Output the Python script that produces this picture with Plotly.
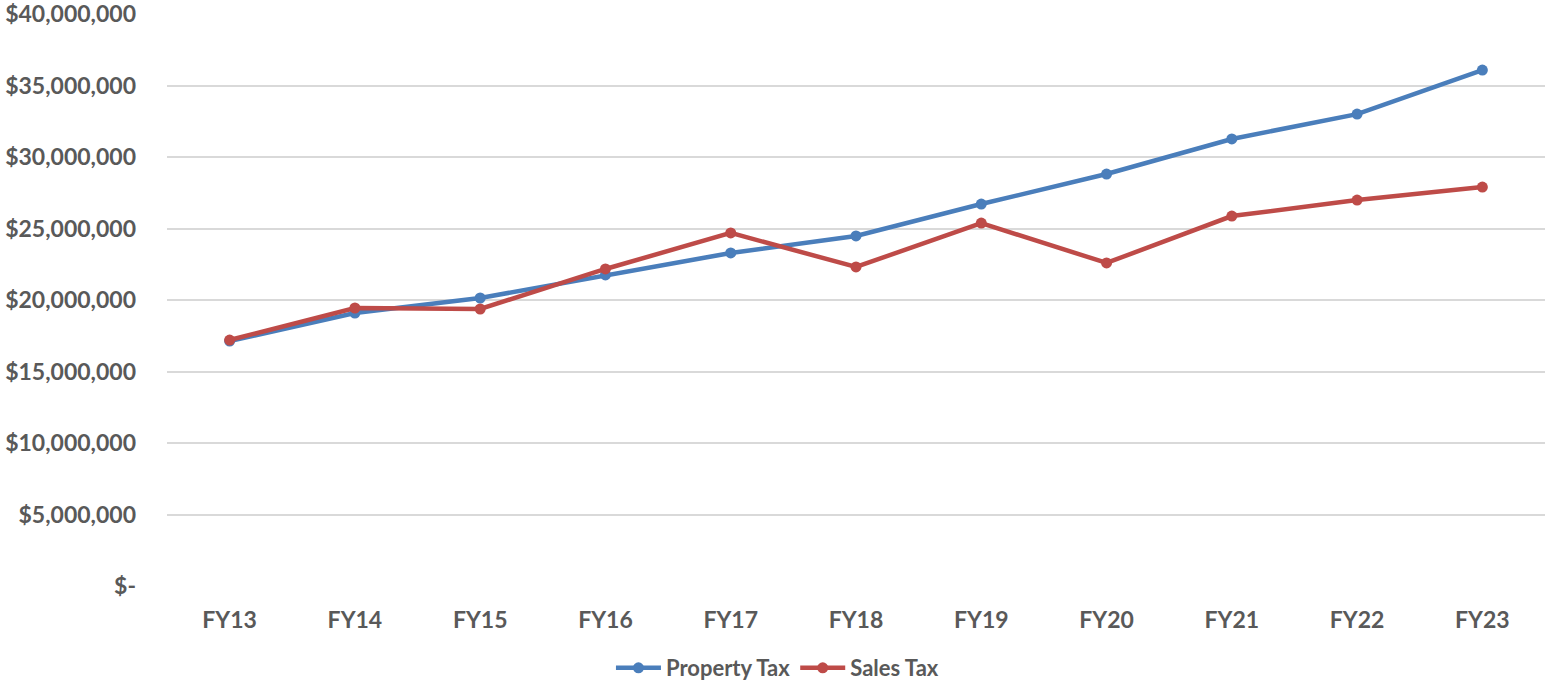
import plotly.graph_objects as go

# Fiscal years on the category axis
years = ["FY13", "FY14", "FY15", "FY16", "FY17", "FY18", "FY19", "FY20", "FY21", "FY22", "FY23"]

# Annual revenue by source (dollars)
property_tax = [17_130_000, 19_090_000, 20_140_000, 21_750_000, 23_290_000, 24_480_000,
                26_710_000, 28_810_000, 31_260_000, 33_000_000, 36_080_000]
sales_tax = [17_200_000, 19_440_000, 19_370_000, 22_170_000, 24_690_000, 22_310_000,
             25_380_000, 22_590_000, 25_870_000, 26_990_000, 27_900_000]

# Value axis ticks and their accounting-style labels
y_ticks = [0, 5_000_000, 10_000_000, 15_000_000, 20_000_000, 25_000_000,
           30_000_000, 35_000_000, 40_000_000]
y_tick_labels = ["$-", "$5,000,000", "$10,000,000", "$15,000,000", "$20,000,000",
                 "$25,000,000", "$30,000,000", "$35,000,000", "$40,000,000"]

BLUE = "#4A7EBB"
RED = "#BE4B48"
TEXT = "#595959"
FONT = "Lato"

fig = go.Figure()
fig.add_trace(go.Scatter(
    x=years, y=property_tax, name="Property Tax", mode="lines+markers",
    line=dict(color=BLUE, width=4.5), marker=dict(color=BLUE, size=11),
))
fig.add_trace(go.Scatter(
    x=years, y=sales_tax, name="Sales Tax", mode="lines+markers",
    line=dict(color=RED, width=4.5), marker=dict(color=RED, size=11),
))

fig.update_layout(
    width=1545, height=681,
    margin=dict(l=167, r=0, t=14, b=95, autoexpand=False),
    paper_bgcolor="white", plot_bgcolor="white",
    font=dict(family=FONT, color=TEXT, size=20),
    showlegend=True,
    legend=dict(
        orientation="h", x=0.443, xanchor="center",
        yref="container", y=0.019, yanchor="middle",
        font=dict(family=FONT, size=22, color=TEXT, weight="bold"),
        itemwidth=45, tracegroupgap=0,
    ),
    xaxis=dict(
        type="category", range=[-0.5, 10.5], showgrid=False, zeroline=False,
        showline=False, ticks="", ticklabelstandoff=18,
        tickfont=dict(family=FONT, size=23, color=TEXT, weight="bold"),
    ),
    yaxis=dict(
        range=[0, 40_000_000], tickvals=y_ticks, ticktext=y_tick_labels,
        showgrid=True, gridcolor="#D9D9D9", gridwidth=1.5, zeroline=False,
        showline=False, ticks="", ticklabelstandoff=30, ticklabeloverflow="allow",
        tickfont=dict(family=FONT, size=23, color=TEXT, weight="bold"),
    ),
)

fig.write_html("out.html")
